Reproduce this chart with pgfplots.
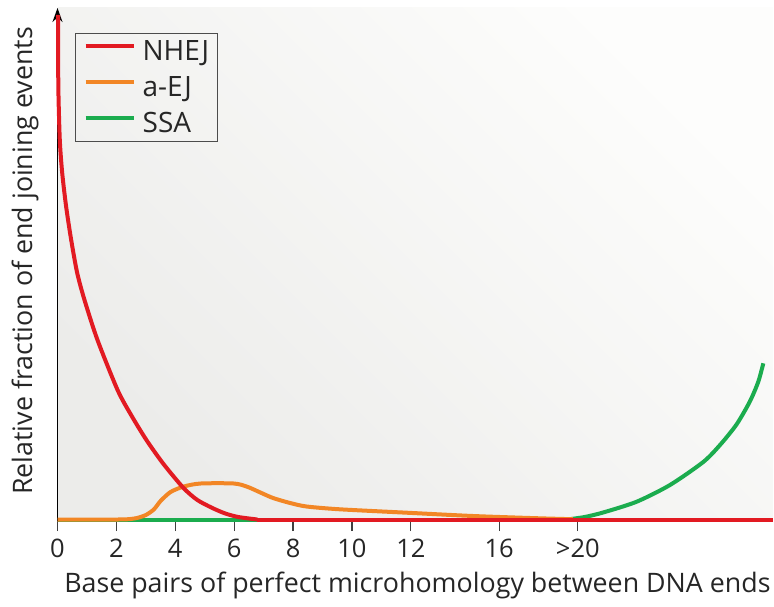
\documentclass[border=0pt]{standalone}
\usepackage{pgfplots}
\pgfplotsset{compat=1.18}
\usepackage{fontspec}
\setmainfont{Open Sans}
\usetikzlibrary{arrows.meta}
\definecolor{nhej}{RGB}{226,26,34}
\definecolor{aej}{RGB}{242,134,37}
\definecolor{ssa}{RGB}{27,172,78}
\definecolor{bgll}{RGB}{236,236,234}
\definecolor{bgur}{RGB}{253,253,252}
\begin{document}
\begin{tikzpicture}
\begin{axis}[
  at={(0,0)}, anchor=south west,
  scale only axis, width=357.75pt, height=256.5pt,
  xmin=0, xmax=24.3, ymin=0, ymax=513,
  clip=false,
  axis x line*=bottom, axis y line=left,
  y axis line style={-{Stealth[length=7pt,width=5pt]}},
  axis line style={black, line width=0.8pt},
  axis background/.style={shade, shading=axis, bottom color=bgll, top color=bgur, shading angle=-45},
  ytick=\empty,
  xtick={0,2,4,6,8,10,12,15,17.67},
  xticklabels={0,2,4,6,8,10,12,16,{>20}},
  tick align=outside, major tick length=5pt,
  tick style={black!75, line width=0.6pt},
  xticklabel style={font=\fontsize{12.75}{15}\selectfont, text=black!85, yshift=-0.5pt},
  xlabel={Base pairs of perfect microhomology between DNA ends},
  xlabel style={font=\fontsize{13.4}{16}\selectfont, text=black!85, at={(axis description cs:0.503,-0.1384)}, anchor=base},
  ylabel={Relative fraction of end joining events},
  ylabel style={font=\fontsize{13.4}{16}\selectfont, text=black!85, at={(axis description cs:-0.0356,0.507)}, anchor=base},
  legend style={at={(axis description cs:0.0245,0.951)}, anchor=north west,
    draw=black!70, line width=0.6pt, fill=none,
    font=\fontsize{14}{17}\selectfont, text=black!85,
    inner xsep=4pt, inner ysep=3pt, row sep=6pt, column sep=3.5pt,
    nodes={inner sep=0pt}},
  legend cell align=left,
  legend image code/.code={\draw[#1] (0pt,0.3em) -- (24pt,0.3em);},
  every axis legend/.append style={text height=10.5pt, text depth=3.5pt},
]
\addlegendimage{nhej, line width=2pt}\addlegendentry{NHEJ}
\addlegendimage{aej, line width=2pt}\addlegendentry{a-EJ}
\addlegendimage{ssa, line width=2pt}\addlegendentry{SSA}

% SSA
\addplot[ssa, line width=2pt, forget plot] coordinates {(0,1.5) (17.3,1.5)};
\addplot[ssa, line width=2pt, smooth, tension=0.45, forget plot] coordinates {
(17.3,1.5) (17.9,4) (18.53,8.5) (19.67,19.3) (20.80,36) (21.93,59) (22.50,76) (23.06,96.5) (23.51,119.3) (23.80,139.3) (23.97,157.7)};

% a-EJ
\addplot[aej, line width=2pt, smooth, tension=0.45, forget plot] coordinates {
(0,1.5) (2.0,1.5) (2.4,1.8) (2.7,3) (3.0,6) (3.27,11.5) (3.5,20) (3.84,29) (4.29,34.5) (4.86,37.5) (5.99,37.5) (6.44,34.3) (6.89,28.5) (7.32,23) (7.9,18) (8.46,14.5) (9.59,11.7) (11.86,8.3) (14.11,5) (16.38,2.7) (17.5,1.8)};

% NHEJ
\addplot[nhej, line width=2pt, smooth, tension=0.45, forget plot] coordinates {
(0.02,506) (0.02,481) (0.03,431) (0.078,381) (0.16,348) (0.295,314) (0.465,281) (0.669,248) (0.917,221) (1.358,181) (2.04,131) (2.5,106) (3.02,81) (3.6,57) (4.28,33) (4.75,21) (5.26,13) (5.7,7.5) (6.14,4) (6.79,1.5)};
\addplot[nhej, line width=2pt, forget plot] coordinates {(6.79,1.5) (24.3,1.5)};
\end{axis}
\pgfresetboundingbox
\path (-28.75pt,-42.5pt) rectangle (358.25pt,260.5pt);
\end{tikzpicture}
\end{document}
